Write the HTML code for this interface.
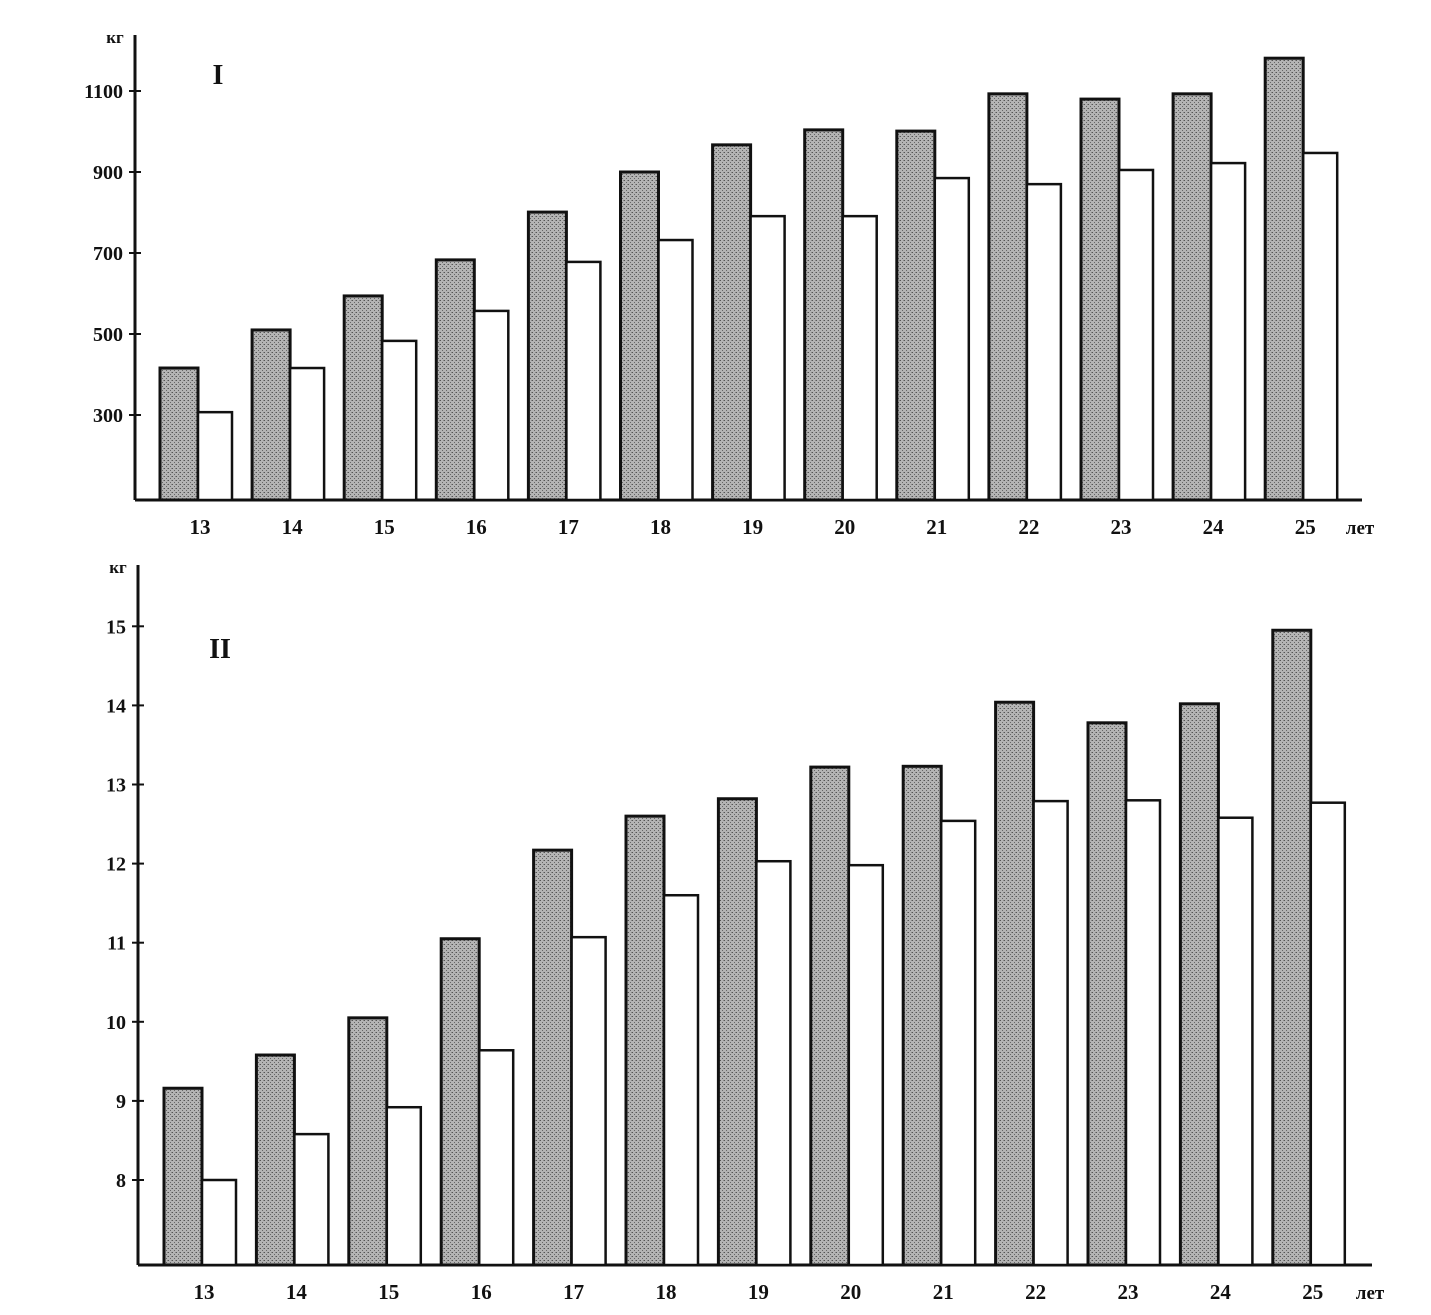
<!DOCTYPE html>
<html><head><meta charset="utf-8">
<style>
body{margin:0;background:#fff;}
svg{display:block;}
text{font-family:"Liberation Serif",serif;font-weight:bold;fill:#111;}
</style></head>
<body>
<svg id="chart" width="1431" height="1315" viewBox="0 0 1431 1315">
<defs>
<pattern id="stip" width="4" height="4" patternUnits="userSpaceOnUse">
<rect width="4" height="4" fill="#b4b4b4"/>
<rect x="0" y="0" width="1" height="1" fill="#555"/>
<rect x="2" y="2" width="1" height="1" fill="#666"/>
<rect x="3" y="0" width="1" height="1" fill="#888"/>
</pattern>
</defs>
</svg>
<script>
const categories=["13","14","15","16","17","18","19","20","21","22","23","24","25"];
const topGray=[416,510,594,683,801,900,967,1004,1001,1093,1080,1093,1181];
const topWhite=[307,416,483,557,678,732,791,791,885,870,905,922,947];
const topTicks=[300,500,700,900,1100];
const botGray=[9.16,9.58,10.05,11.05,12.17,12.6,12.82,13.22,13.23,14.04,13.78,14.02,14.95];
const botWhite=[8.0,8.58,8.92,9.64,11.07,11.6,12.03,11.98,12.54,12.79,12.8,12.58,12.77];
const botTicks=[8,9,10,11,12,13,14,15];

const svg=document.getElementById('chart');
const NS='http://www.w3.org/2000/svg';
function mk(tag,attrs,parent){const e=document.createElementNS(NS,tag);for(const k in attrs)e.setAttribute(k,attrs[k]);(parent||svg).appendChild(e);return e;}

function panel(cfg){
  const g=mk('g',{});
  
  
  const y=v=>cfg.y0-(v-cfg.v0)*cfg.k;
  const x=i=>cfg.x0+i*cfg.step;
  // axes
  const ya=mk('line',{x1:cfg.ax,y1:cfg.axTop,x2:cfg.ax,y2:cfg.base,stroke:'#111','stroke-width':3},g);
  
  
  const xa=mk('line',{x1:cfg.ax,y1:cfg.base,x2:cfg.axRight,y2:cfg.base,stroke:'#111','stroke-width':3},g);
  
  
  cfg.ticks.forEach(t=>{
    const ty=y(t);
    const tl=mk('line',{x1:cfg.ax-6,y1:ty,x2:cfg.ax+6,y2:ty,stroke:'#111','stroke-width':2},g);
    
    
    const tx=mk('text',{x:cfg.ax-12,y:ty+7,'text-anchor':'end','font-size':20},g);
    tx.textContent=t;
    
    
  });
  categories.forEach((c,i)=>{
    const cx=x(i);
    const gy=y(cfg.gray[i]);
    const b1=mk('rect',{x:cx-40,y:gy,width:38,height:cfg.base-gy,fill:'url(#stip)',stroke:'#111','stroke-width':3},g);
    
    
    const wy=y(cfg.white[i]);
    const b2=mk('rect',{x:cx-2,y:wy,width:34,height:cfg.base-wy,fill:'#fff',stroke:'#111','stroke-width':2.5},g);
    
    
    const lb=mk('text',{x:cx,y:cfg.base+34,'text-anchor':'middle','font-size':21},g);
    lb.textContent=c;
    
    
  });
  const u=mk('text',{x:cfg.ax-20,y:cfg.axTop+8,'text-anchor':'middle','font-size':17},g);
  u.textContent='кг';
  
  
  const l=mk('text',{x:cfg.axRight-2,y:cfg.base+34,'text-anchor':'middle','font-size':19},g);
  l.textContent='лет';
  
  
  const r=mk('text',{x:cfg.romanX,y:cfg.romanY,'text-anchor':'middle','font-size':28,'font-weight':'normal'},g);
  r.textContent=cfg.roman;
  
  
}
panel({name:'panel-I',gray:topGray,white:topWhite,ticks:topTicks,v0:300,y0:415,k:0.405,
  ax:135,axTop:35,base:500,axRight:1362,x0:200,step:92.1,roman:'I',romanX:218,romanY:84});
panel({name:'panel-II',gray:botGray,white:botWhite,ticks:botTicks,v0:8,y0:1180,k:79.1,
  ax:138,axTop:565,base:1265,axRight:1372,x0:204,step:92.4,roman:'II',romanX:220,romanY:658});
</script>
</body></html>
